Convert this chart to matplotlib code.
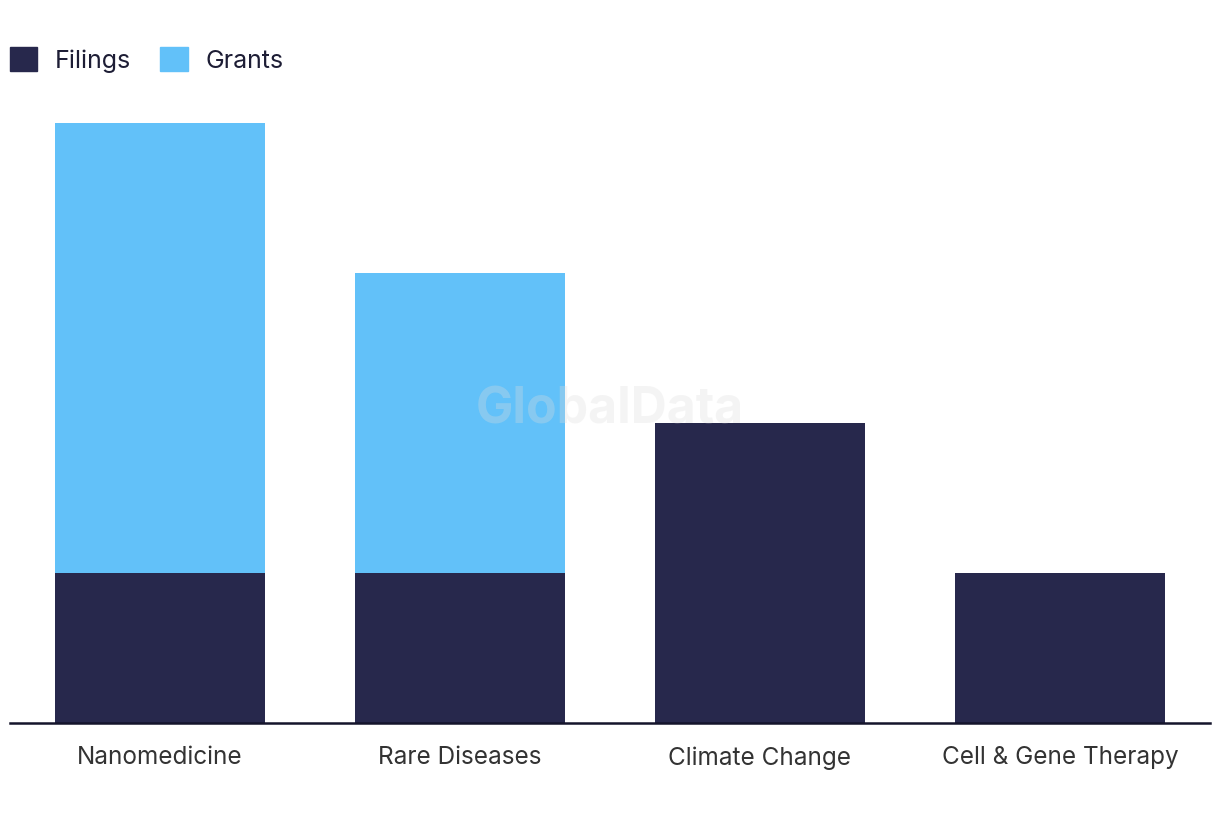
import matplotlib
matplotlib.use("Agg")
import matplotlib.pyplot as plt
from matplotlib.patches import Patch
import numpy as np

categories = ["Nanomedicine", "Rare Diseases", "Climate Change", "Cell & Gene Therapy"]
filings = [1, 1, 2, 1]
grants = [3, 2, 0, 0]

filings_color = "#27284c"
grants_color = "#62c1f9"

plt.rcParams["font.family"] = ["Inter", "DejaVu Sans"]

fig = plt.figure(figsize=(12.2, 8.2), dpi=100)
ax = fig.add_axes([10 / 1220, 96 / 820, 1200 / 1220, 600 / 820])

x = np.arange(len(categories))
ax.bar(x, filings, width=0.7, color=filings_color, zorder=2)
ax.bar(x, grants, width=0.7, bottom=filings, color=grants_color, zorder=2)

ax.set_xlim(-0.5, len(categories) - 0.5)
ax.set_ylim(0, 4)
ax.set_xticks(x)
ax.set_xticklabels(categories, fontsize=17.5, color="#333333")
ax.tick_params(axis="x", length=0, pad=16)
ax.set_yticks([])
for side in ["top", "right", "left"]:
    ax.spines[side].set_visible(False)
ax.spines["bottom"].set_color("#14142b")
ax.spines["bottom"].set_linewidth(1.8)
ax.spines["bottom"].set_zorder(3)

# watermark
fig.text(610 / 1220, 1 - 410 / 820, "GlobalData", fontsize=36, fontweight="bold",
         color="#dddddd", alpha=0.3, ha="center", va="center", zorder=5)

handles = [Patch(color=filings_color, label="Filings"),
           Patch(color=grants_color, label="Grants")]
fig.legend(handles=handles, loc="upper left", bbox_to_anchor=(-13 / 1220, 1 - 25 / 820),
           ncol=2, frameon=False, fontsize=18, handlelength=1.1, handleheight=1.1,
           handletextpad=0.72, columnspacing=1.15, labelcolor="#1d1d35")

fig.savefig("out.png", dpi=100)
